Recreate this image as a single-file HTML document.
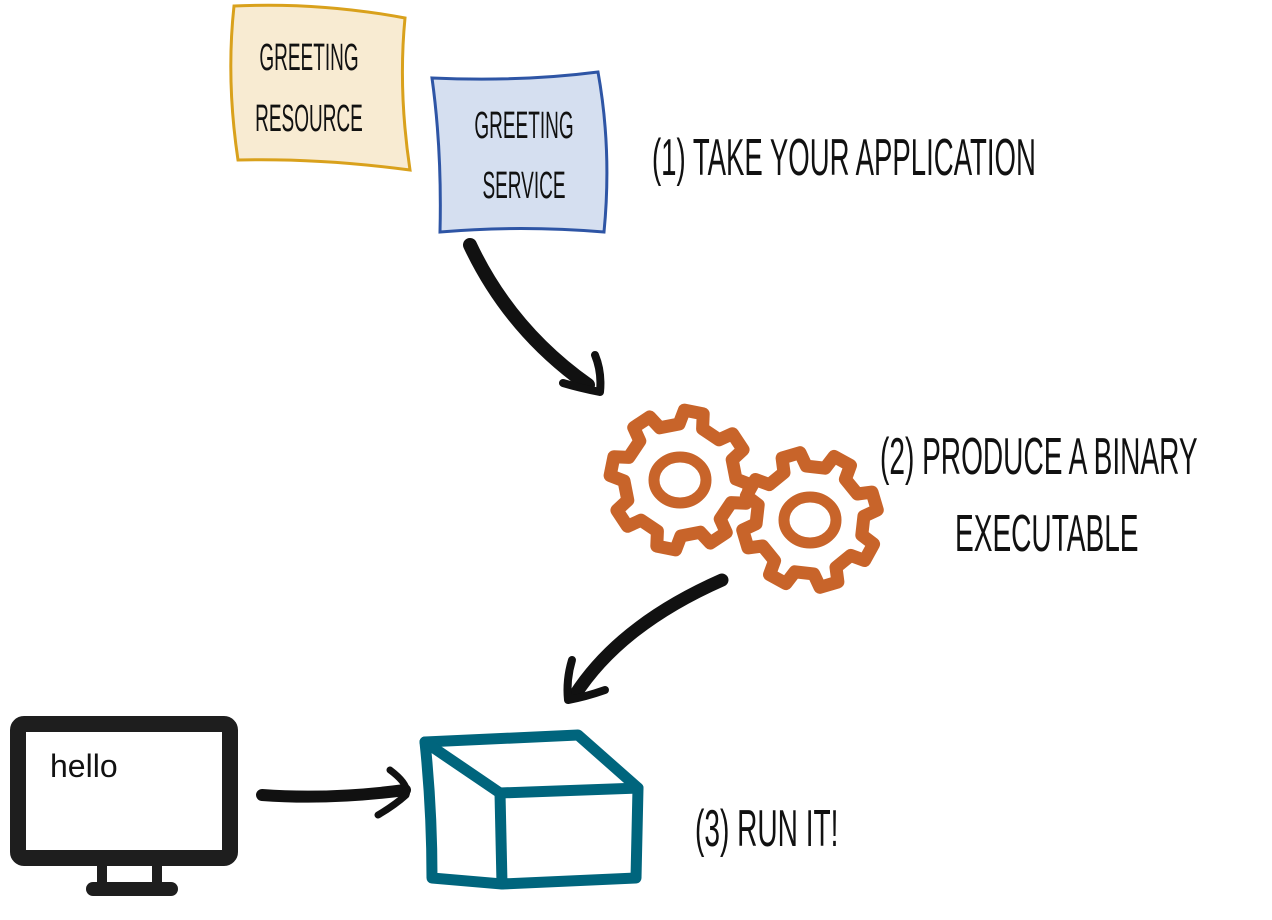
<!DOCTYPE html>
<html><head><style>
html,body{margin:0;padding:0;background:#fff;width:1272px;height:920px;overflow:hidden}
svg{display:block}
.h{font-family:"Liberation Sans Narrow","Liberation Sans",sans-serif;fill:#111;}
</style></head><body>
<svg width="1272" height="920" viewBox="0 0 1272 920" xmlns="http://www.w3.org/2000/svg">
<!-- sticky notes -->
<path d="M234,6 Q320,2 405,18 Q398,90 410,170 Q320,158 238,160 Q226,80 234,6 Z" fill="#f8ebd2" stroke="#d9a11c" stroke-width="3"/>
<text class="h" x="309" y="70" font-size="38" text-anchor="middle" transform="translate(309,0) scale(0.5,1) translate(-309,0)">GREETING</text>
<text class="h" x="309" y="131" font-size="38" text-anchor="middle" transform="translate(309,0) scale(0.5,1) translate(-309,0)">RESOURCE</text>
<path d="M432,78 Q520,82 598,72 Q612,150 604,232 Q520,225 440,232 Q442,150 432,78 Z" fill="#d5dff0" stroke="#2e55a5" stroke-width="3"/>
<text class="h" x="524" y="138" font-size="38" text-anchor="middle" transform="translate(524,0) scale(0.5,1) translate(-524,0)">GREETING</text>
<text class="h" x="524" y="198" font-size="38" text-anchor="middle" transform="translate(524,0) scale(0.5,1) translate(-524,0)">SERVICE</text>
<!-- labels -->
<text class="h" x="652" y="175" font-size="52" transform="translate(652,0) scale(0.53,1) translate(-652,0)">(1) TAKE YOUR APPLICATION</text>
<text class="h" x="880" y="474" font-size="52" transform="translate(880,0) scale(0.54,1) translate(-880,0)">(2) PRODUCE A BINARY</text>
<text class="h" x="955" y="551" font-size="52" transform="translate(955,0) scale(0.54,1) translate(-955,0)">EXECUTABLE</text>
<text class="h" x="695" y="846" font-size="52" transform="translate(695,0) scale(0.54,1) translate(-695,0)">(3) RUN IT!</text>
<!-- arrows -->
<g fill="none" stroke="#111" stroke-linecap="round" stroke-linejoin="round">
<path d="M470,245 Q510,330 588,385" stroke-width="14"/>
<path d="M595,355 Q602,372 600,392 Q580,388 563,383" stroke-width="8"/>
<path d="M722,580 Q620,625 575,695" stroke-width="13"/>
<path d="M572,660 Q566,680 568,700 Q585,697 605,690" stroke-width="8"/>
<path d="M262,795 Q330,800 405,790" stroke-width="12"/>
<path d="M390,770 Q410,785 406,795 Q395,805 378,815" stroke-width="7"/>
</g>
<!-- gears -->
<g id="gears" fill="none" stroke="#c8642a" stroke-width="13" stroke-linejoin="round"></g>
<ellipse cx="680" cy="480" rx="26" ry="23" fill="none" stroke="#c8642a" stroke-width="11"/>
<ellipse cx="810" cy="520" rx="26" ry="23" fill="none" stroke="#c8642a" stroke-width="11"/>
<!-- monitor -->
<rect x="18" y="724" width="212" height="134" rx="6" fill="none" stroke="#1e1e1e" stroke-width="16"/>
<rect x="97" y="858" width="10" height="30" fill="#1e1e1e"/>
<rect x="152" y="858" width="10" height="30" fill="#1e1e1e"/>
<rect x="86" y="882" width="92" height="14" rx="7" fill="#1e1e1e"/>
<text x="50" y="777" font-family="Liberation Sans,sans-serif" font-size="32" fill="#111">hello</text>
<!-- box -->
<g fill="none" stroke="#00657d" stroke-width="11" stroke-linejoin="round" stroke-linecap="round">
<path d="M425,742 L578,735 L638,788 L636,878 L502,884 L432,878 Q432,810 425,742 Z"/>
<path d="M425,742 L500,793 L638,788"/>
<path d="M500,793 L502,884"/>
</g>
</svg>
<script>
function gear(cx,cy,R,r,n,rot){var p=[];for(var i=0;i<n;i++){var a=rot+i*2*Math.PI/n,w=Math.PI/n;
var pts=[[r,a-w*0.55],[R,a-w*0.35],[R,a+w*0.35],[r,a+w*0.55]];
pts.forEach(function(q){p.push((cx+q[0]*Math.cos(q[1])).toFixed(1)+","+(cy+q[0]*Math.sin(q[1])).toFixed(1));});}
return p.join(" ");}
var g=document.getElementById("gears");
[[680,480,70,56,8,0.2],[810,520,68,54,8,0.5]].forEach(function(a){var e=document.createElementNS("http://www.w3.org/2000/svg","polygon");e.setAttribute("points",gear.apply(null,a));g.appendChild(e);});
</script>
</body></html>
